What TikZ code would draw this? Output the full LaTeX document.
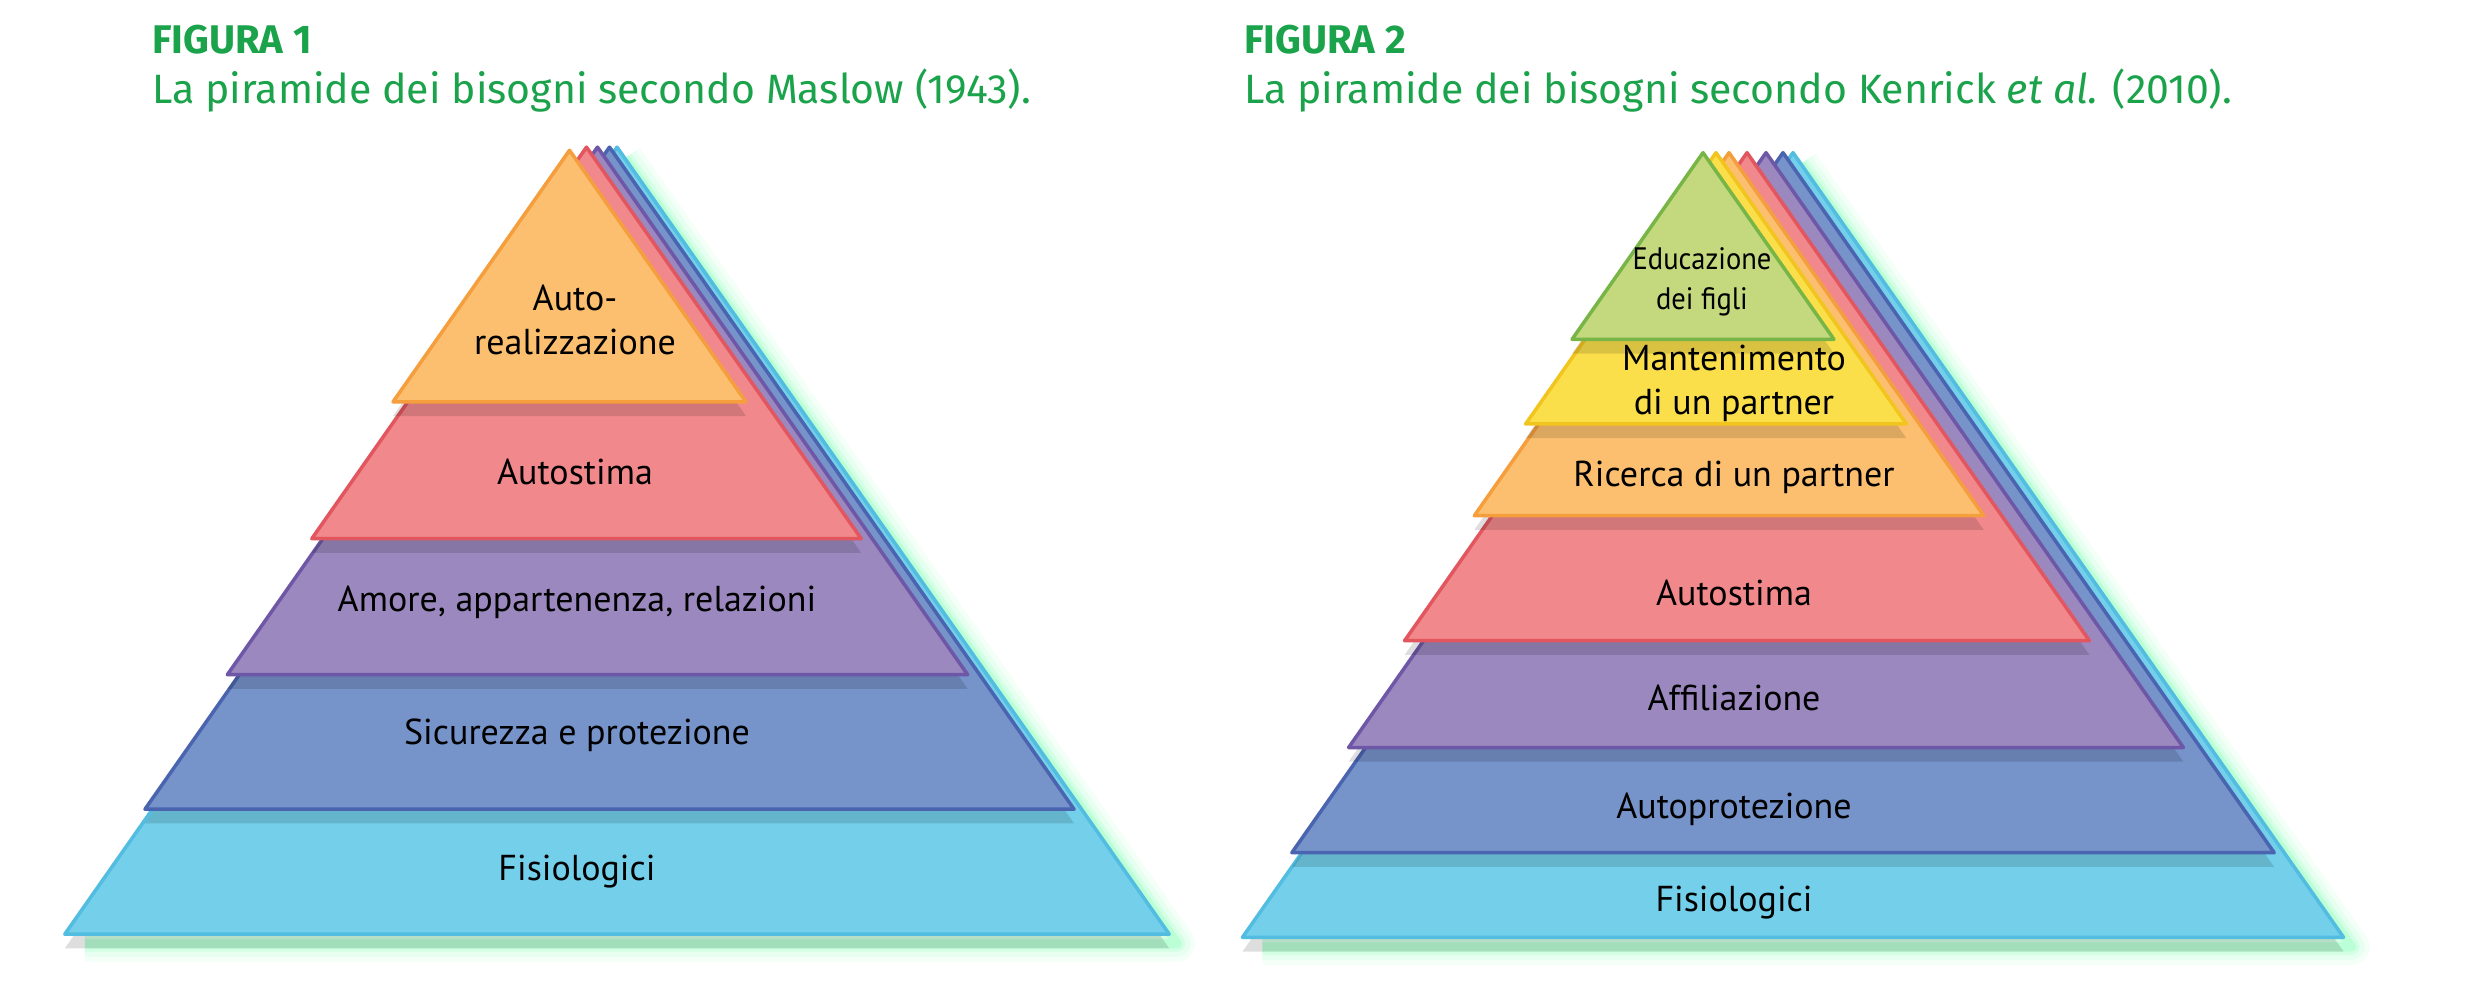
\documentclass[tikz,border=0pt]{standalone}
\usepackage{fontspec}
\setmainfont{PT Sans}
\newfontfamily\titlefont{Fira Sans}
\definecolor{tgreen}{HTML}{1BA34B}
\definecolor{cyF}{HTML}{74CFEB}\definecolor{cyD}{HTML}{52BDE0}
\definecolor{blF}{HTML}{7693CA}\definecolor{blD}{HTML}{4A64B0}
\definecolor{puF}{HTML}{9B88BF}\definecolor{puD}{HTML}{6E57A6}
\definecolor{reF}{HTML}{F1888B}\definecolor{reD}{HTML}{E2565F}
\definecolor{orF}{HTML}{FBBF6F}\definecolor{orD}{HTML}{F59E3D}
\definecolor{yeF}{HTML}{FADF4B}\definecolor{yeD}{HTML}{F2C41E}
\definecolor{grF}{HTML}{C4D97E}\definecolor{grD}{HTML}{78B547}
\newcommand\mypyr[5]{%
  \pgfmathsetmacro\hw{(#2-#3)*0.555}%
  \fill[black,opacity=0.13] (#1,#3+18) -- (#1-\hw,#2+18) -- (#1+\hw,#2+18) -- cycle;
  \filldraw[fill=#4,draw=#5,line width=3.5pt,line join=round] (#1,#3) -- (#1-\hw,#2) -- (#1+\hw,#2) -- cycle;}
\newcommand\myglow[3]{%
  \pgfmathsetmacro\hw{(#2-#3)*0.555}%
  \foreach \w/\o in {36/0.06,26/0.08,16/0.12,9/0.18}{
    \draw[green!60!cyan!70!white,opacity=\o,line width=\w pt,line join=round] (#1+8,#3+14) -- (#1+\hw+8,#2+12) -- (#1-\hw+20,#2+12);}}
\tikzset{lbl/.style={font=\fontsize{36}{44}\selectfont,align=center,inner sep=0pt},
  ttl/.style={anchor=base west,inner sep=0pt,text=tgreen}}
\begin{document}
\begin{tikzpicture}[x=1pt,y=-0.791pt]
\useasboundingbox (0,0) rectangle (2476,1239);
\fill[white] (0,0) rectangle (2476,1239);
% Titles
\node[ttl,font=\titlefont\bfseries\fontsize{40}{44}\selectfont] (t1) at (152,68) {FIGURA 1};
\node[ttl,font=\titlefont\fontsize{41}{44}\selectfont] (s1) at (152,131) {La piramide dei bisogni secondo Maslow (1943).};
\node[ttl,font=\titlefont\bfseries\fontsize{40}{44}\selectfont] (t2) at (1244,68) {FIGURA 2};
\node[ttl,font=\titlefont\fontsize{41}{44}\selectfont] (s2) at (1244,131) {La piramide dei bisogni secondo Kenrick \textit{et al.} (2010).};
% Figure 1
\myglow{617}{1181}{186}
\mypyr{617}{1181}{186}{cyF}{cyD}
\mypyr{609.5}{1023}{186}{blF}{blD}
\mypyr{597.5}{853}{186}{puF}{puD}
\mypyr{586.5}{681}{186}{reF}{reD}
\mypyr{569.5}{508}{190}{orF}{orD}
\node[lbl] (a1) at (575,405) {Auto-\\realizzazione};
\node[lbl] (a2) at (575,596) {Autostima};
\node[lbl] (a3) at (577,762) {Amore, appartenenza, relazioni};
\node[lbl] (a4) at (577,930) {Sicurezza e protezione};
\node[lbl] (a5) at (577,1102) {Fisiologici};
% Figure 2
\myglow{1793}{1185}{193}
\mypyr{1793}{1185}{193}{cyF}{cyD}
\mypyr{1783}{1078}{193}{blF}{blD}
\mypyr{1766}{945}{193}{puF}{puD}
\mypyr{1747}{810}{193}{reF}{reD}
\mypyr{1729}{652}{193}{orF}{orD}
\mypyr{1716}{536}{193}{yeF}{yeD}
\mypyr{1703}{429}{193}{grF}{grD}
\node[lbl,font=\fontsize{31}{40}\selectfont] (b1) at (1702,356) {\scalebox{0.92}[1]{Educazione}\\\scalebox{0.92}[1]{dei figli}};
\node[lbl] (b2) at (1734,485) {Mantenimento\\di un partner};
\node[lbl] (b3) at (1734,603) {Ricerca di un partner};
\node[lbl] (b4) at (1734,750) {Autostima};
\node[lbl] (b5) at (1734,882) {Affiliazione};
\node[lbl] (b6) at (1734,1023) {Autoprotezione};
\node[lbl] (b7) at (1734,1141) {Fisiologici};
\end{tikzpicture}
\end{document}
